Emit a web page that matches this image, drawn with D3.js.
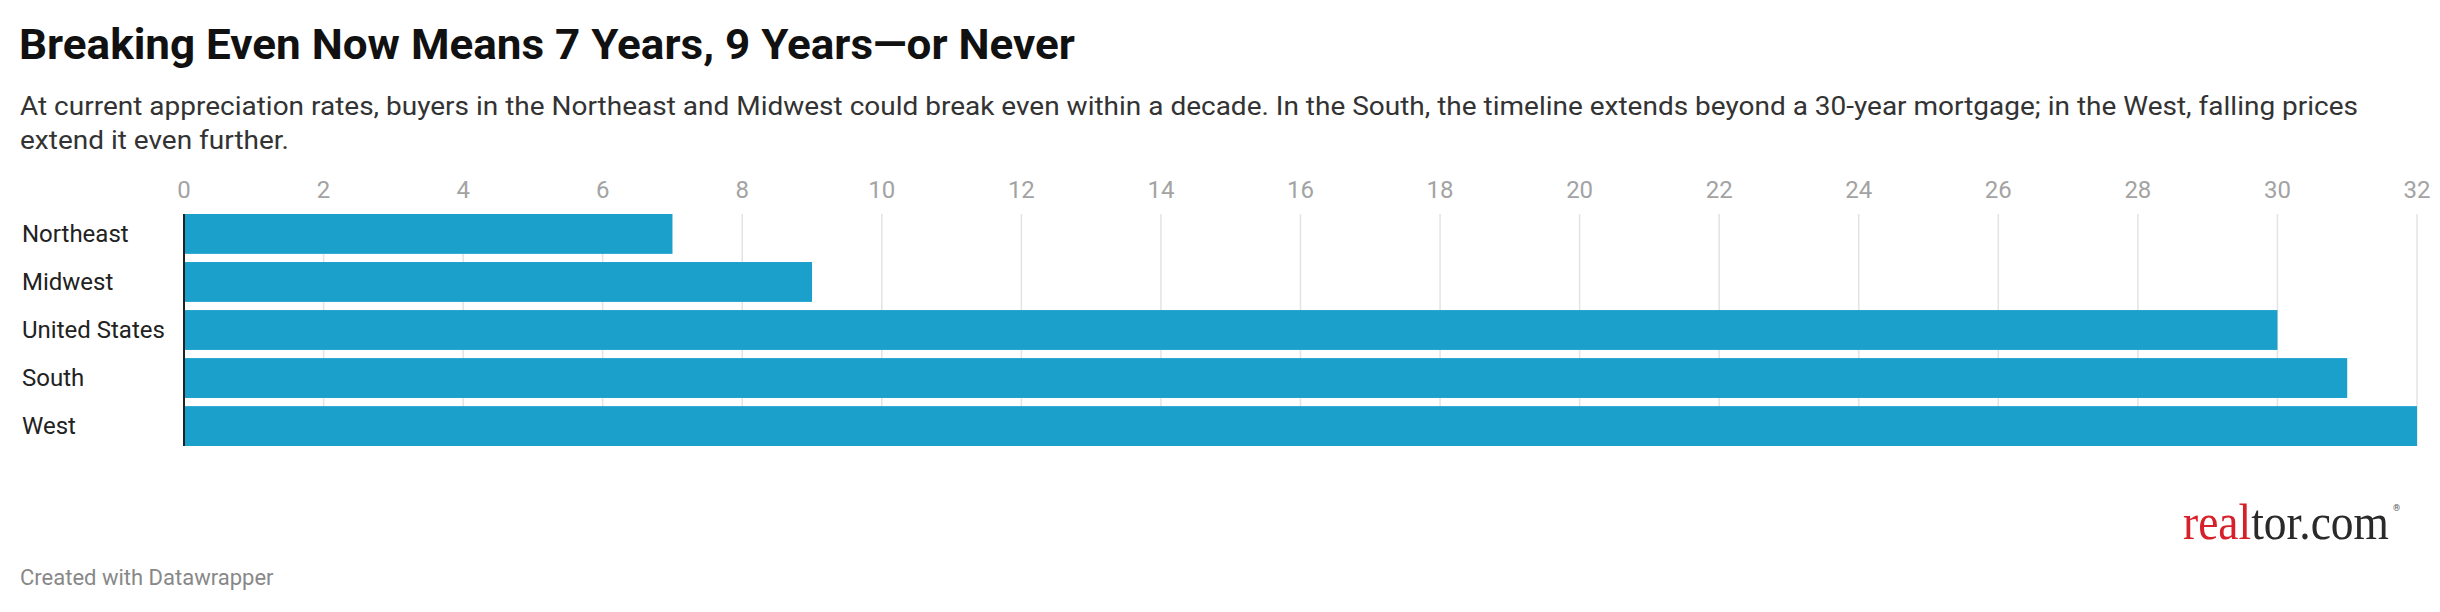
<!DOCTYPE html>
<html>
<head>
<meta charset="utf-8">
<script src="https://cdn.jsdelivr.net/npm/d3@7"></script>
<style>
  html, body { margin: 0; padding: 0; background: #fff; }
  svg { display: block; font-family: Roboto, "Noto Sans", sans-serif; }
</style>
</head>
<body>
<svg id="chart" width="2440" height="612"></svg>
<script>
// chart data
const regions = ["Northeast", "Midwest", "United States", "South", "West"];
const years = [7, 9, 30, 31, 32];
const ticks = [0, 2, 4, 6, 8, 10, 12, 14, 16, 18, 20, 22, 24, 26, 28, 30, 32];

const titleText = "Breaking Even Now Means 7 Years, 9 Years\u2014or Never";
const subtitleLines = [
    "At current appreciation rates, buyers in the Northeast and Midwest could break even within a decade. In the South, the timeline extends beyond a 30-year mortgage; in the West, falling prices",
    "extend it even further."
];

const svg = d3.select("#chart");

// header
svg.append("text")
    .attr("x", 19)
    .attr("y", 59)
    .attr("font-size", 42)
    .attr("font-weight", 700)
    .attr("fill", "#111")
    .attr("textLength", 1056)
    .attr("lengthAdjust", "spacingAndGlyphs")
    .text(titleText);

// subtitle, stretched a little to match the reference's wider set
const sub = svg.append("g")
    .attr("font-size", 25)
    .attr("fill", "#333");
const subText = sub.selectAll("text")
    .data(subtitleLines)
    .enter().append("text")
    .attr("x", 20)
    .attr("y", (d, i) => 115 + i * 34)
    .text(d => d);
const natural = subText.nodes().map(n => n.getComputedTextLength());
const stretch = 2338 / natural[0];
subText
    .attr("textLength", (d, i) => natural[i] * stretch)
    .attr("lengthAdjust", "spacingAndGlyphs");

// scales
const x = d3.scaleLinear().domain([0, 32]).range([184, 2417]);
const y = d3.scaleBand().domain(regions).range([214, 446]).paddingInner(0.17).paddingOuter(0);

const plot = svg.append("g");

// grid lines
plot.selectAll("line.grid")
    .data(ticks.filter(t => t > 0))
    .enter().append("line")
    .attr("class", "grid")
    .attr("x1", d => x(d))
    .attr("x2", d => x(d))
    .attr("y1", 214)
    .attr("y2", 446)
    .attr("stroke", "#e3e3e3")
    .attr("stroke-width", 1.5);

// tick labels
plot.selectAll("text.tick")
    .data(ticks)
    .enter().append("text")
    .attr("class", "tick")
    .attr("x", d => x(d))
    .attr("y", 198)
    .attr("text-anchor", "middle")
    .attr("font-size", 24)
    .attr("fill", "#a3a3a3")
    .text(d => d);

// bars
plot.selectAll("rect.bar")
    .data(regions)
    .enter().append("rect")
    .attr("class", "bar")
    .attr("x", x(0))
    .attr("y", d => y(d))
    .attr("width", (d, i) => x(years[i]) - x(0))
    .attr("height", y.bandwidth())
    .attr("fill", "#1ba0cc");

// baseline
plot.append("line")
    .attr("x1", x(0))
    .attr("x2", x(0))
    .attr("y1", 214)
    .attr("y2", 446)
    .attr("stroke", "#222")
    .attr("stroke-width", 2);

// row labels
plot.selectAll("text.label")
    .data(regions)
    .enter().append("text")
    .attr("class", "label")
    .attr("x", 22)
    .attr("y", d => y(d) + y.bandwidth() / 2)
    .attr("dy", "0.35em")
    .attr("font-size", 24)
    .attr("fill", "#222")
    .text(d => d);

// logo: size the word to ~206px wide, then stretch it vertically
const logoG = svg.append("g")
    .attr("transform", "translate(2183,539) scale(1,1.12)");
const logo = logoG.append("text")
    .attr("font-family", "'Liberation Serif', 'DejaVu Serif', serif")
    .attr("font-size", 45);
logo.append("tspan").attr("fill", "#d6202a").text("real");
logo.append("tspan").attr("fill", "#2a2a2a").text("tor.com");
const logoW = logo.node().getComputedTextLength();
logo.attr("font-size", 45 * 206 / logoW);

svg.append("text")
    .attr("x", 2183 + 206 + 4)
    .attr("y", 511)
    .attr("font-size", 9)
    .attr("fill", "#555")
    .text("\u00ae");

// footer
svg.append("text")
    .attr("x", 20)
    .attr("y", 585)
    .attr("font-size", 22)
    .attr("fill", "#888")
    .text("Created with Datawrapper");
</script>
</body>
</html>
